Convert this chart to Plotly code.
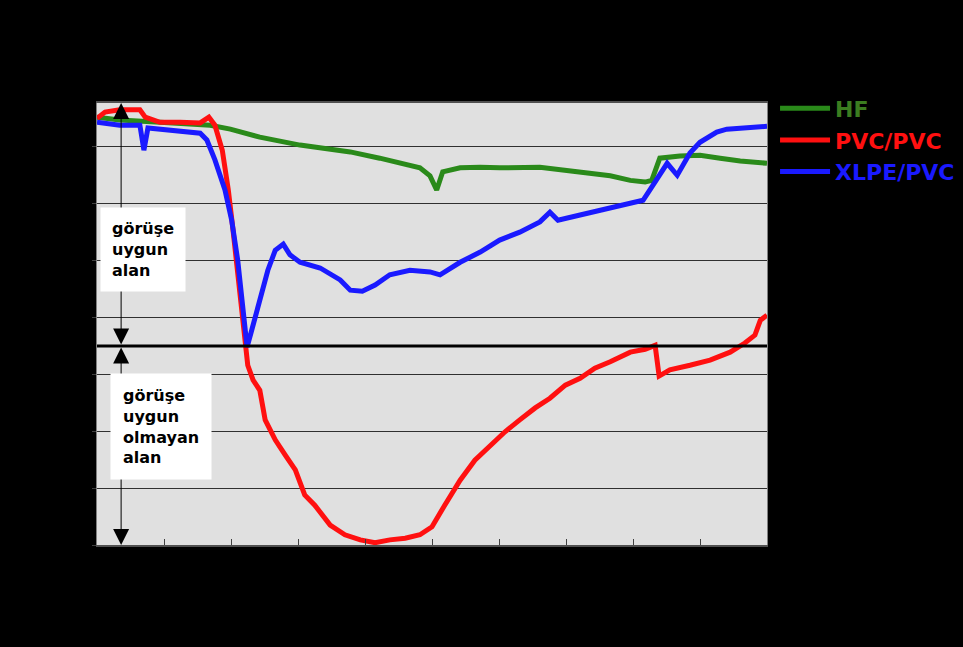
import plotly.graph_objects as go

# ---- data ----
hf_x = [0, 3.4, 9.4, 16.9, 19.9, 24.3, 30.3, 34.8, 37.8, 42.2, 45.2, 48.2, 49.7, 50.7, 51.6,
        54.2, 57.2, 60.1, 66.1, 72.1, 76.6, 79.6, 81.8, 82.8, 84.0, 87.0, 90.0, 93.0, 96.0, 100]
hf_y = [75.2, 74.7, 74.3, 73.8, 73.1, 71.7, 70.3, 69.6, 69.1, 68.0, 67.1, 66.3, 64.9, 62.4, 65.6,
        66.3, 66.4, 66.3, 66.4, 65.5, 64.9, 64.1, 63.8, 64.1, 68.0, 68.4, 68.5, 68.0, 67.5, 67.1]

pvc_x = [0, 1.2, 3.4, 6.4, 7.2, 9.4, 12.4, 15.4, 16.7, 17.6, 18.7, 19.6, 20.3, 21.0, 21.8, 22.5,
         23.3, 24.3, 25.1, 26.6, 28.1, 29.6, 31.0, 32.5, 34.8, 37.0, 39.3, 41.5, 43.7, 46.0, 48.2,
         50.0, 51.9, 54.2, 56.4, 58.7, 60.9, 63.1, 65.4, 67.6, 69.9, 72.1, 74.3, 76.6, 79.6, 81.8,
         83.3, 83.9, 85.5, 88.5, 91.5, 94.5, 96.7, 98.2, 99.0, 100]
pvc_y = [75.0, 76.1, 76.5, 76.5, 75.2, 74.3, 74.3, 74.2, 75.2, 73.8, 69.4, 62.4, 55.4, 48.3, 39.5, 31.6,
         29.0, 27.2, 22.0, 18.5, 15.8, 13.2, 8.8, 7.0, 3.5, 1.8, 0.9, 0.4, 0.9, 1.2, 1.8,
         3.2, 7.0, 11.4, 14.9, 17.6, 19.9, 22.0, 24.1, 25.8, 28.1, 29.3, 31.1, 32.2, 33.9, 34.4,
         35.1, 29.7, 30.8, 31.6, 32.5, 33.9, 35.5, 36.9, 39.5, 40.4]

xlpe_x = [0, 3.4, 6.4, 7.0, 7.6, 10.9, 15.4, 16.4, 17.6, 19.1, 20.1, 21.0, 21.8, 22.4, 23.1, 24.3,
          25.5, 26.6, 27.8, 28.8, 30.3, 33.3, 36.3, 37.8, 39.6, 41.5, 43.7, 46.7, 49.7, 51.2, 54.2,
          57.2, 60.1, 63.1, 66.1, 67.6, 68.8, 72.1, 75.1, 78.1, 81.5, 82.5, 85.1, 86.6, 88.5, 90.0,
          92.5, 94.0, 97.5, 100]
xlpe_y = [74.3, 73.8, 73.8, 69.4, 73.3, 72.9, 72.4, 71.2, 67.7, 62.4, 57.1, 50.1, 41.3, 34.8, 37.8, 43.1,
          48.3, 51.8, 52.9, 51.0, 49.7, 48.7, 46.6, 44.8, 44.6, 45.7, 47.5, 48.3, 48.0, 47.5, 49.7,
          51.5, 53.6, 55.0, 56.8, 58.5, 57.1, 58.0, 58.9, 59.8, 60.6, 62.4, 67.1, 65.0, 68.9, 70.8,
          72.6, 73.1, 73.3, 73.6]

threshold = 35.0
y_max = 77.7
x_max = 100

good_label = "görüşe<br>uygun<br>alan"
bad_label = "görüşe<br>uygun<br>olmayan<br>alan"

GREEN = "#2a8a1a"
RED = "#ff1010"
BLUE = "#1a1aff"

fig = go.Figure()
fig.add_trace(go.Scatter(x=hf_x, y=hf_y, mode="lines", line=dict(color=GREEN, width=5),
                         name="<span style='color:#3c7d20'><b>HF</b></span>"))
fig.add_trace(go.Scatter(x=pvc_x, y=pvc_y, mode="lines", line=dict(color=RED, width=5),
                         name=f"<span style='color:{RED}'><b>PVC/PVC</b></span>"))
fig.add_trace(go.Scatter(x=xlpe_x, y=xlpe_y, mode="lines", line=dict(color=BLUE, width=5),
                         name=f"<span style='color:{BLUE}'><b>XLPE/PVC</b></span>"))

fig.add_shape(type="line", xref="x", yref="y", x0=0, x1=x_max, y0=threshold, y1=threshold,
              line=dict(color="black", width=3))

arrow_x = 3.6
arrow_style = dict(xref="x", yref="y", axref="x", ayref="y", text="", showarrow=True,
                   arrowhead=2, arrowsize=3.2, arrowwidth=1, arrowcolor="black",
                   arrowside="end+start", startarrowhead=2, startarrowsize=3.2)
fig.add_annotation(x=arrow_x, y=y_max, ax=arrow_x, ay=threshold, **arrow_style)
fig.add_annotation(x=arrow_x, y=0, ax=arrow_x, ay=threshold, **arrow_style)
# text boxes
fig.add_annotation(x=6.8, y=52.0, xref="x", yref="y", text=f"<b>{good_label}</b>", showarrow=False,
                   align="left", bgcolor="white", borderpad=11,
                   font=dict(family="DejaVu Sans", size=16, color="black"))
fig.add_annotation(x=9.5, y=20.9, xref="x", yref="y", text=f"<b>{bad_label}</b>", showarrow=False,
                   align="left", bgcolor="white", borderpad=12,
                   font=dict(family="DejaVu Sans", size=16, color="black"))

fig.update_layout(
    width=963, height=647,
    margin=dict(l=97, r=196, t=103, b=102, autoexpand=False),
    paper_bgcolor="black", plot_bgcolor="#e0e0e0",
    showlegend=True,
    legend=dict(x=1.012, y=1.035, xanchor="left", yanchor="top", bgcolor="rgba(0,0,0,0)",
                font=dict(family="DejaVu Sans", size=22, color="white"),
                itemwidth=50, tracegroupgap=0),
)
fig.update_xaxes(range=[0, x_max], dtick=10, showgrid=False, zeroline=False,
                 showline=True, linecolor="#505050", linewidth=2, mirror=True,
                 ticks="inside", ticklen=6, tickcolor="#404040", showticklabels=False)
fig.update_yaxes(range=[0, y_max], dtick=10, showgrid=True, gridcolor="#303030", gridwidth=1,
                 zeroline=False, showline=True, linecolor="#808080", linewidth=1, mirror=True,
                 ticks="outside", ticklen=4, tickcolor="#404040", showticklabels=False)

fig.write_html("out.html", config={"displayModeBar": False},
               post_script="document.body.style.margin='0';document.body.style.background='black';")
